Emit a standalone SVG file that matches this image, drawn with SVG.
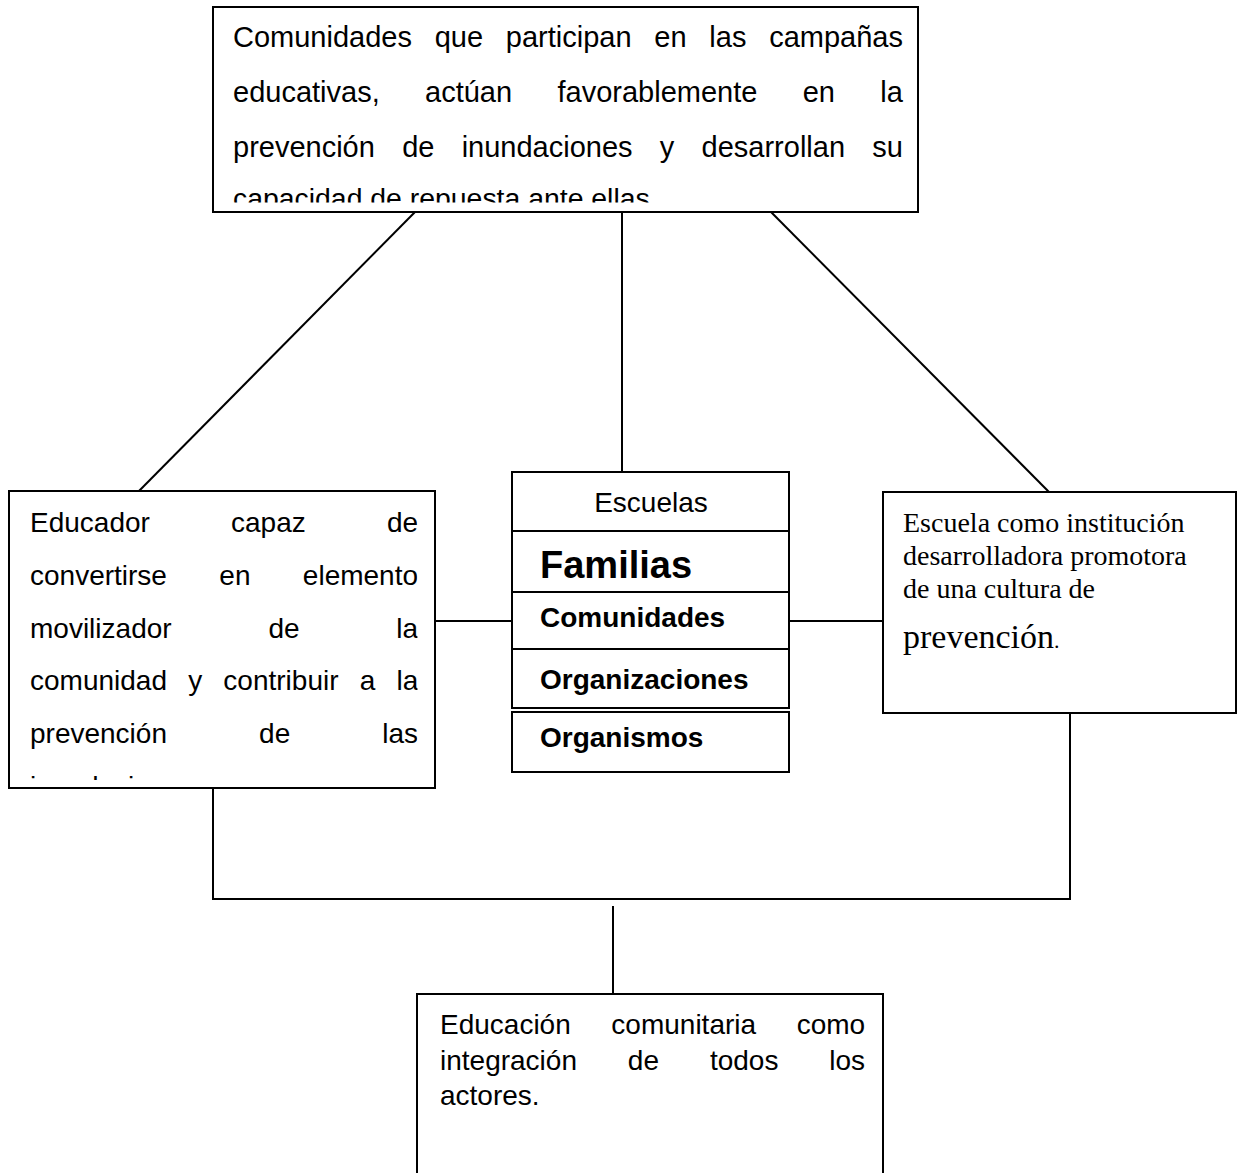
<svg xmlns="http://www.w3.org/2000/svg" width="1244" height="1173" viewBox="0 0 1244 1173">
  <style>
    .box { fill: #ffffff; stroke: #000000; stroke-width: 2; }
    .link { fill: none; stroke: #000000; stroke-width: 2; }
    .sans { font-family: "Liberation Sans", Arial, sans-serif; fill: #000000; }
    .serif { font-family: "Liberation Serif", "Times New Roman", serif; fill: #000000; }
    .bold { font-weight: bold; }
  </style>
  <defs>
    <clipPath id="clipTop"><rect x="214" y="8" width="703" height="194.5"/></clipPath>
    <clipPath id="clipLeft"><rect x="10" y="492" width="407.5" height="288"/></clipPath>
  </defs>

  <rect width="1244" height="1173" fill="#ffffff"/>

  <!-- connectors -->
  <g id="connectors">
    <line class="link" x1="415" y1="212" x2="139" y2="491"/>
    <line class="link" x1="622" y1="212" x2="622" y2="472"/>
    <line class="link" x1="771" y1="212" x2="1049" y2="492"/>
    <line class="link" x1="435" y1="621" x2="512" y2="621"/>
    <line class="link" x1="789" y1="621" x2="883" y2="621"/>
    <polyline class="link" points="213,788 213,899 1070,899 1070,713"/>
    <line class="link" x1="613" y1="906" x2="613" y2="1000"/>
  </g>

  <!-- top node -->
  <g id="node-comunidades">
    <rect class="box" x="213" y="7" width="705" height="205"/>
    <g class="sans" font-size="29" clip-path="url(#clipTop)">
      <text x="233" y="47" word-spacing="14.7">Comunidades que participan en las campañas</text>
      <text x="233" y="102" word-spacing="37.3">educativas, actúan favorablemente en la</text>
      <text x="233" y="157" word-spacing="19.2">prevención de inundaciones y desarrollan su</text>
      <text x="233" y="208" font-size="28.4">capacidad de repuesta ante ellas.</text>
    </g>
  </g>

  <!-- left node -->
  <g id="node-educador">
    <rect class="box" x="9" y="491" width="426" height="297"/>
    <g class="sans" font-size="28" clip-path="url(#clipLeft)">
      <text x="30" y="532" word-spacing="73.4">Educador capaz de</text>
      <text x="30" y="584.8" word-spacing="44.6">convertirse en elemento</text>
      <text x="30" y="637.6" word-spacing="89">movilizador de la</text>
      <text x="30" y="690.4" word-spacing="13.4">comunidad y contribuir a la</text>
      <text x="30" y="743.2" word-spacing="84.3">prevención de las</text>
      <text x="30" y="796">inundaciones.</text>
    </g>
  </g>

  <!-- middle stack of actors -->
  <g id="node-actores">
    <rect class="box" x="512" y="472" width="277" height="59"/>
    <rect class="box" x="512" y="531" width="277" height="61"/>
    <rect class="box" x="512" y="592" width="277" height="57"/>
    <rect class="box" x="512" y="649" width="277" height="59"/>
    <rect class="box" x="512" y="712" width="277" height="60"/>
    <text class="sans" font-size="28" x="651" y="512" text-anchor="middle">Escuelas</text>
    <text class="sans bold" font-size="38" x="540" y="578">Familias</text>
    <text class="sans bold" font-size="28" x="540" y="627">Comunidades</text>
    <text class="sans bold" font-size="28" x="540" y="689">Organizaciones</text>
    <text class="sans bold" font-size="28" x="540" y="747">Organismos</text>
  </g>

  <!-- right node -->
  <g id="node-escuela">
    <rect class="box" x="883" y="492" width="353" height="221"/>
    <g class="serif" font-size="28">
      <text x="903" y="532">Escuela como institución</text>
      <text x="903" y="565">desarrolladora promotora</text>
      <text x="903" y="598">de una cultura de</text>
      <text x="903" y="648"><tspan font-size="34">prevención</tspan><tspan font-size="22">.</tspan></text>
    </g>
  </g>

  <!-- bottom node -->
  <g id="node-educacion">
    <rect class="box" x="417" y="994" width="466" height="200"/>
    <g class="sans" font-size="28">
      <text x="440" y="1034" word-spacing="32.8">Educación comunitaria como</text>
      <text x="440" y="1070" word-spacing="43.1">integración de todos los</text>
      <text x="440" y="1105">actores.</text>
    </g>
  </g>
</svg>
